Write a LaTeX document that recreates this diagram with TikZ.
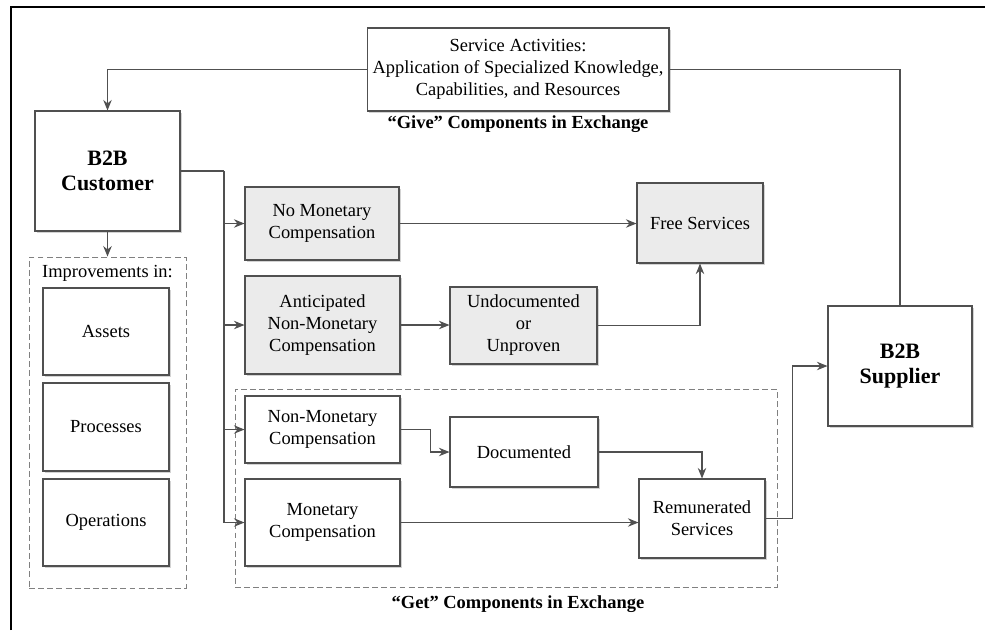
\documentclass[tikz,border=0pt]{standalone}
\usepackage{fontspec}
\setmainfont{Liberation Serif}
\usepackage{tikz}
\usetikzlibrary{arrows.meta}
\usetikzlibrary{shadows}
\tikzset{>={Stealth[length=6pt,width=4.8pt]}}
\definecolor{boxline}{HTML}{505050}
\definecolor{boxfill}{HTML}{EBEBEB}
\tikzset{
  box/.style={draw=boxline, fill=white, align=center, inner sep=2pt, line width=0.6pt,
    drop shadow={shadow xshift=1.3pt, shadow yshift=-1.3pt, opacity=0.35},
    font=\fontsize{10.5}{12.5}\selectfont},
  greybox/.style={box, fill=boxfill},
  dashbox/.style={draw=gray, dash pattern=on 3.4pt off 1.8pt, line width=0.5pt},
  link/.style={draw=boxline, line width=0.6pt},
  caption/.style={font=\bfseries\fontsize{10.5}{12.5}\selectfont},
}

\begin{document}
\begin{tikzpicture}[x=0.02cm,y=-0.02cm]
    \useasboundingbox (0,0) rectangle (985,630);
    \draw[line width=1pt] (11,630) -- (11,7) -- (985,7);

    \node[box, minimum width=6.04cm, minimum height=1.66cm] (service) at (518,69.5)
      {Service Activities:\\Application of Specialized Knowledge,\\Capabilities, and Resources};
    \node[caption] (give) at (518,124) {“Give” Components in Exchange};

    \node[box, minimum width=2.9cm, minimum height=2.4cm, font=\bfseries\fontsize{12.5}{14.5}\selectfont] (customer) at (107.5,171) {B2B\\Customer};
    \node[box, minimum width=2.88cm, minimum height=2.4cm, font=\bfseries\fontsize{12.5}{14.5}\selectfont] (supplier) at (900,366) {B2B\\Supplier};

    \node[dashbox, minimum width=3.14cm, minimum height=6.62cm] (impr) at (107.5,422.5) {};
    \node[font=\fontsize{10.5}{12.5}\selectfont] (imprlabel) at (107.5,273) {Improvements in:};
    \node[box, minimum width=2.52cm, minimum height=1.74cm] (assets) at (106,331.5) {Assets};
    \node[box, minimum width=2.52cm, minimum height=1.76cm] (processes) at (106,427) {Processes};
    \node[box, minimum width=2.52cm, minimum height=1.74cm] (operations) at (106,522.5) {Operations};

    \node[greybox, minimum width=3.08cm, minimum height=1.46cm] (nomon) at (322,223.5) {No Monetary\\Compensation};
    \node[greybox, minimum width=3.1cm, minimum height=1.96cm] (antic) at (322.5,325) {Anticipated\\Non-Monetary\\Compensation};
    \node[greybox, minimum width=2.94cm, minimum height=1.54cm] (undoc) at (523.5,325.5) {Undocumented\\or\\Unproven};
    \node[greybox, minimum width=2.52cm, minimum height=1.6cm] (free) at (700,223) {Free Services};

    \node[dashbox, minimum width=10.84cm, minimum height=3.96cm] (get) at (506,488) {};
    \node[caption] (getlabel) at (518,604) {“Get” Components in Exchange};
    \node[box, minimum width=3.1cm, minimum height=1.34cm] (nonmon) at (322.5,429.5) {Non-Monetary\\Compensation};
    \node[box, minimum width=2.96cm, minimum height=1.4cm] (doc) at (524,452) {Documented};
    \node[box, minimum width=3.1cm, minimum height=1.74cm] (mon) at (322.5,522.5) {Monetary\\Compensation};
    \node[box, minimum width=2.52cm, minimum height=1.58cm] (remun) at (702,518.5) {Remunerated\\Services};

    \draw[link,->] (service.west) -| (customer.north);
    \draw[link] (service.east) -| (supplier.north);
    \draw[link,->] (customer.south) -- (impr.north);

    \coordinate (bus) at (224,171);
    \draw[link] (customer.east) -- (bus);
    \foreach \n in {nomon,antic,nonmon,mon} {
      \draw[link,->] (bus) |- (\n.west);
    }

    \draw[link,->] (nomon.east) -- (free.west |- nomon.east);
    \draw[link,->] (antic.east) -- (undoc.west |- antic.east);
    \draw[link,->] (undoc.east) -| (free.south);
    \draw[link,->] (nonmon.east) -- ++(30,0) |- (doc.west);
    \draw[link,->] (doc.east) -| (remun.north);
    \draw[link,->] (mon.east) -- (remun.west |- mon.east);
    \draw[link,->] (remun.east) -- ++(27,0) |- (supplier.west);
\end{tikzpicture}
\end{document}
